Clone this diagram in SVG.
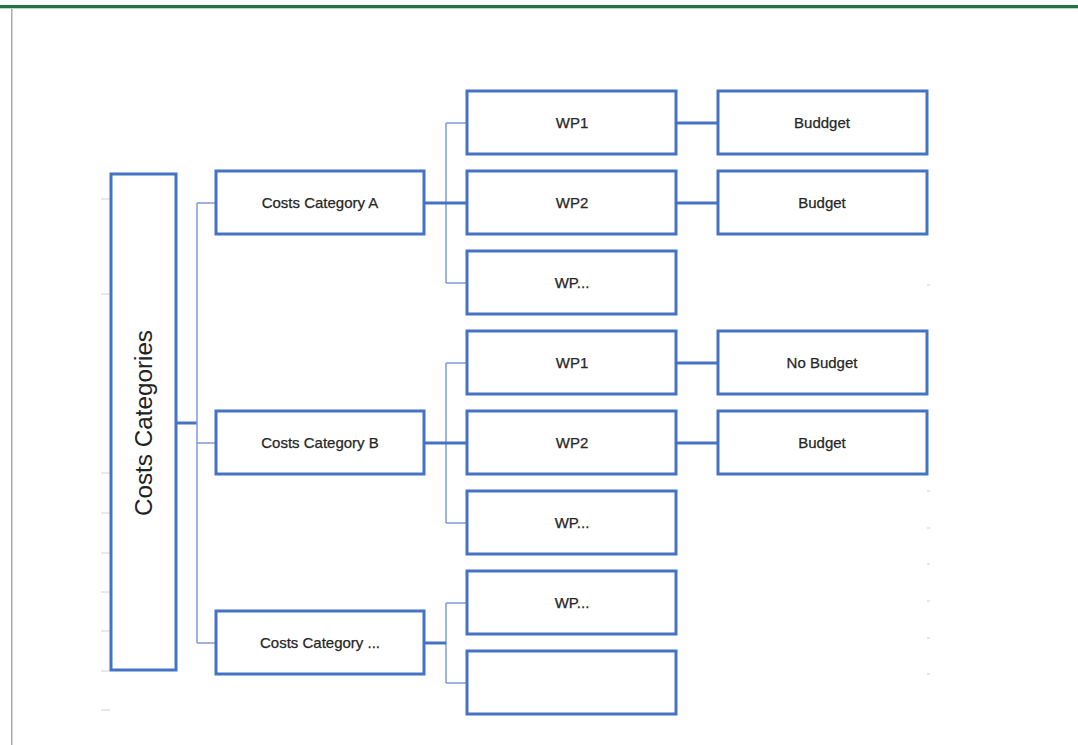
<svg xmlns="http://www.w3.org/2000/svg" width="1078" height="745" viewBox="0 0 1078 745">
<style>
.box{fill:#fff;stroke:#4472C4;stroke-width:3}
.lbl{font-family:"Liberation Sans",Arial,sans-serif;font-size:15px;fill:#262626;text-anchor:middle;dominant-baseline:central;stroke:#262626;stroke-width:0.25}
.thin{stroke:#7E9CD6;stroke-width:1.5;fill:none}
.thick{stroke:#4472C4;stroke-width:3;fill:none}
.tick{stroke:#d0d0d0;stroke-width:1}
</style>
<rect width="1078" height="745" fill="#fff"/>
<rect x="0" y="5" width="1078" height="3" fill="#217346"/>
<rect x="0" y="8" width="1078" height="1" fill="#b5d9c2"/>
<rect x="11" y="9" width="1.5" height="736" fill="#aaa"/>
<g id="ticks">
<line class="tick" x1="101" y1="199" x2="110" y2="199"/>
<line class="tick" x1="101" y1="294" x2="110" y2="294"/>
<line class="tick" x1="101" y1="473" x2="110" y2="473"/>
<line class="tick" x1="101" y1="513" x2="110" y2="513"/>
<line class="tick" x1="101" y1="553" x2="110" y2="553"/>
<line class="tick" x1="101" y1="592" x2="110" y2="592"/>
<line class="tick" x1="101" y1="631" x2="110" y2="631"/>
<line class="tick" x1="101" y1="671" x2="110" y2="671"/>
<line class="tick" x1="101" y1="710" x2="110" y2="710"/>
<line class="tick" x1="927" y1="285" x2="930" y2="285"/>
<line class="tick" x1="927" y1="491" x2="930" y2="491"/>
<line class="tick" x1="927" y1="528" x2="930" y2="528"/>
<line class="tick" x1="927" y1="564" x2="930" y2="564"/>
<line class="tick" x1="927" y1="601" x2="930" y2="601"/>
<line class="tick" x1="927" y1="638" x2="930" y2="638"/>
<line class="tick" x1="927" y1="674" x2="930" y2="674"/>
</g>
<g id="connectors">
<path class="thick" d="M176 423H197"/>
<path class="thin" d="M197 203V643M197 203H216M197 443H216M197 643H216"/>
<path class="thin" d="M446 123V283M446 123H466M446 283H466"/>
<path class="thick" d="M424 203H466"/>
<path class="thin" d="M446 363V523M446 363H466M446 523H466"/>
<path class="thick" d="M424 443H466"/>
<path class="thin" d="M446 603V683M446 603H466M446 683H466"/>
<path class="thick" d="M424 643H446"/>
<path class="thick" d="M677 123H718M677 203H718M677 363H718M677 443H718"/>
</g>
<g id="root"><rect class="box" x="111" y="174" width="65" height="496"/>
<text transform="translate(144,423) rotate(-90)" style="font-family:'Liberation Sans',Arial,sans-serif;font-size:23px;fill:#222;text-anchor:middle;dominant-baseline:central" textLength="186" lengthAdjust="spacingAndGlyphs">Costs Categories</text></g>
<g id="catA"><rect class="box" x="216" y="171" width="208" height="63"/><text class="lbl" x="320" y="202">Costs Category A</text></g>
<g id="catB"><rect class="box" x="216" y="411" width="208" height="63"/><text class="lbl" x="320" y="442">Costs Category B</text></g>
<g id="catC"><rect class="box" x="216" y="611" width="208" height="63"/><text class="lbl" x="320" y="642">Costs Category ...</text></g>
<g id="a_wp1"><rect class="box" x="467" y="91" width="209" height="63"/><text class="lbl" x="572" y="122">WP1</text></g>
<g id="a_wp2"><rect class="box" x="467" y="171" width="209" height="63"/><text class="lbl" x="572" y="202">WP2</text></g>
<g id="a_wp3"><rect class="box" x="467" y="251" width="209" height="63"/><text class="lbl" x="572" y="282">WP...</text></g>
<g id="b_wp1"><rect class="box" x="467" y="331" width="209" height="63"/><text class="lbl" x="572" y="362">WP1</text></g>
<g id="b_wp2"><rect class="box" x="467" y="411" width="209" height="63"/><text class="lbl" x="572" y="442">WP2</text></g>
<g id="b_wp3"><rect class="box" x="467" y="491" width="209" height="63"/><text class="lbl" x="572" y="522">WP...</text></g>
<g id="c_wp1"><rect class="box" x="467" y="571" width="209" height="63"/><text class="lbl" x="572" y="602">WP...</text></g>
<g id="c_wp2"><rect class="box" x="467" y="651" width="209" height="63"/></g>
<g id="a_bud1"><rect class="box" x="718" y="91" width="209" height="63"/><text class="lbl" x="822" y="122">Buddget</text></g>
<g id="a_bud2"><rect class="box" x="718" y="171" width="209" height="63"/><text class="lbl" x="822" y="202">Budget</text></g>
<g id="b_bud1"><rect class="box" x="718" y="331" width="209" height="63"/><text class="lbl" x="822" y="362">No Budget</text></g>
<g id="b_bud2"><rect class="box" x="718" y="411" width="209" height="63"/><text class="lbl" x="822" y="442">Budget</text></g>
</svg>
